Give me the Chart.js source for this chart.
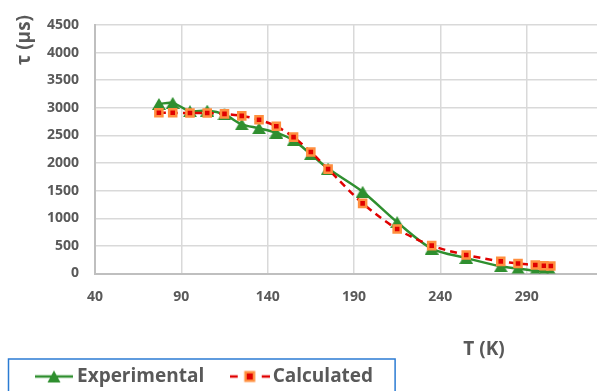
<!DOCTYPE html>
<html>
<head>
<meta charset="utf-8">
<script src="https://cdn.jsdelivr.net/npm/chart.js@4.4.0/dist/chart.umd.min.js"></script>
<style>
  body { margin: 0; overflow: hidden; background: #fff; }
  #wrap { position: absolute; left: 0; top: 0; width: 640px; height: 396px; }
</style>
</head>
<body>
<div id="wrap"><canvas id="myChart" width="640" height="396"></canvas></div>
<script>
// temperatures (K)
let temps = [77, 85, 95, 105, 115, 125, 135, 145, 155, 165, 175, 195, 215, 235, 255, 275, 285, 295, 300, 304];
let experimental = [3070, 3090, 2940, 2950, 2880, 2700, 2630, 2550, 2410, 2160, 1900, 1480, 930, 450, 280, 130, 90, 50, 40, 30];
let calculated = [2910, 2910, 2905, 2905, 2890, 2855, 2785, 2665, 2470, 2200, 1890, 1270, 805, 505, 335, 220, 180, 155, 140, 135];

let seriesNames = ["Experimental", "Calculated"];
let xTitle = "T (K)";
let yTitle = "τ (μs)";

let greenCol = "#2f8f2f";
let redCol = "#e00000";
let orangeCol = "#ff8f3f";
let textCol = "#595959";
let fontFam = "'Open Sans', 'Noto Sans', sans-serif";

function toPoints(ys) {
  return temps.map((t, i) => ({ x: t, y: ys[i] }));
}

// triangle marker centred on its box (like excel), not on its centroid
function triMarker() {
  let c = document.createElement("canvas");
  c.width = 14; c.height = 12;
  let g = c.getContext("2d");
  g.fillStyle = greenCol;
  g.beginPath(); g.moveTo(7, 0); g.lineTo(14, 12); g.lineTo(0, 12); g.closePath(); g.fill();
  return c;
}

// little legend symbols: line + marker
function expSymbol() {
  let c = document.createElement("canvas");
  c.width = 38; c.height = 16;
  let g = c.getContext("2d");
  g.strokeStyle = greenCol; g.lineWidth = 2.5;
  g.beginPath(); g.moveTo(0, 8); g.lineTo(38, 8); g.stroke();
  g.fillStyle = greenCol;
  g.beginPath(); g.moveTo(19, 2); g.lineTo(25.5, 14); g.lineTo(12.5, 14); g.closePath(); g.fill();
  return c;
}

function calcSymbol() {
  let c = document.createElement("canvas");
  c.width = 40; c.height = 16;
  let g = c.getContext("2d");
  g.strokeStyle = redCol; g.lineWidth = 2.5;
  g.beginPath(); g.moveTo(0, 8); g.lineTo(8, 8); g.moveTo(32, 8); g.lineTo(40, 8); g.stroke();
  g.fillStyle = orangeCol; g.fillRect(14.5, 2.5, 11, 11);
  g.fillStyle = redCol; g.fillRect(17, 5, 6, 6);
  return c;
}

const axisTitles = {
  id: "axisTitles",
  afterDraw(chart) {
    let ctx = chart.ctx;
    ctx.save();
    ctx.fillStyle = textCol;
    ctx.font = "bold 19px " + fontFam;
    ctx.textAlign = "center";
    ctx.textBaseline = "middle";
    ctx.fillText(xTitle, 484, 350);
    ctx.translate(25, 40);
    ctx.rotate(-Math.PI / 2);
    ctx.fillText(yTitle, 0, 0);
    ctx.restore();
  }
};

const legendFrame = {
  id: "legendFrame",
  afterDraw(chart) {
    let lg = chart.legend;
    if (!lg || !lg.legendHitBoxes.length) return;
    let boxes = lg.legendHitBoxes;
    let last = boxes[boxes.length - 1];
    let ctx = chart.ctx;
    ctx.save();
    ctx.strokeStyle = "#2b7bd3";
    ctx.lineWidth = 1.5;
    ctx.strokeRect(8.5, boxes[0].top - 8, last.left + last.width + 22 - 8.5, 45);
    ctx.restore();
  }
};

document.addEventListener("DOMContentLoaded", function() {
  const ctx = document.getElementById("myChart").getContext("2d");
  let symbols = [expSymbol(), calcSymbol()];

  new Chart(ctx, {
    type: "line",
    data: {
      datasets: [
        {
          label: seriesNames[0],
          data: toPoints(experimental),
          borderColor: greenCol,
          backgroundColor: greenCol,
          borderWidth: 2.5,
          pointStyle: triMarker(),
          pointRadius: 7,
          tension: 0.3,
          order: 1
        },
        {
          label: seriesNames[1],
          data: toPoints(calculated),
          borderColor: redCol,
          backgroundColor: redCol,
          borderWidth: 2.5,
          borderDash: [7, 5],
          pointStyle: "rect",
          pointRadius: 5,
          pointBorderWidth: 2.5,
          pointBorderColor: orangeCol,
          pointBackgroundColor: redCol,
          tension: 0.3,
          order: 0
        }
      ]
    },
    options: {
      responsive: false,
      animation: false,
      layout: { padding: { left: 8.5, right: 20, top: 25, bottom: 0 } },
      plugins: {
        tooltip: { enabled: false },
        legend: {
          position: "bottom",
          align: "start",
          labels: {
            usePointStyle: true,
            pointStyleWidth: 27,
            padding: 32,
            color: textCol,
            font: { family: fontFam, size: 19, weight: "bold" },
            generateLabels(chart) {
              return chart.data.datasets.map((ds, i) => ({
                text: ds.label,
                pointStyle: symbols[i],
                fillStyle: ds.borderColor,
                strokeStyle: ds.borderColor,
                lineWidth: 0,
                fontColor: textCol,
                hidden: false,
                datasetIndex: i
              }));
            }
          }
        }
      },
      scales: {
        x: {
          type: "linear",
          min: 40,
          max: 340,
          afterFit(scale) { scale.height = 61.5; },
          ticks: {
            stepSize: 50,
            padding: 15,
            color: textCol,
            font: { family: fontFam, size: 14, weight: "bold" },
            callback: (v) => String(v)
          },
          grid: { color: "#d9d9d9", lineWidth: 1.5, drawTicks: false },
          border: { color: "#bfbfbf", width: 2 }
        },
        y: {
          min: 0,
          max: 4500,
          afterFit(scale) { scale.width = 86.5; },
          ticks: {
            stepSize: 500,
            padding: 16,
            color: textCol,
            font: { family: fontFam, size: 14, weight: "bold" },
            callback: (v) => String(v)
          },
          grid: { color: "#d9d9d9", lineWidth: 1.5, drawTicks: false },
          border: { color: "#bfbfbf", width: 2 }
        }
      }
    },
    plugins: [axisTitles, legendFrame]
  });
});
</script>
</body>
</html>
